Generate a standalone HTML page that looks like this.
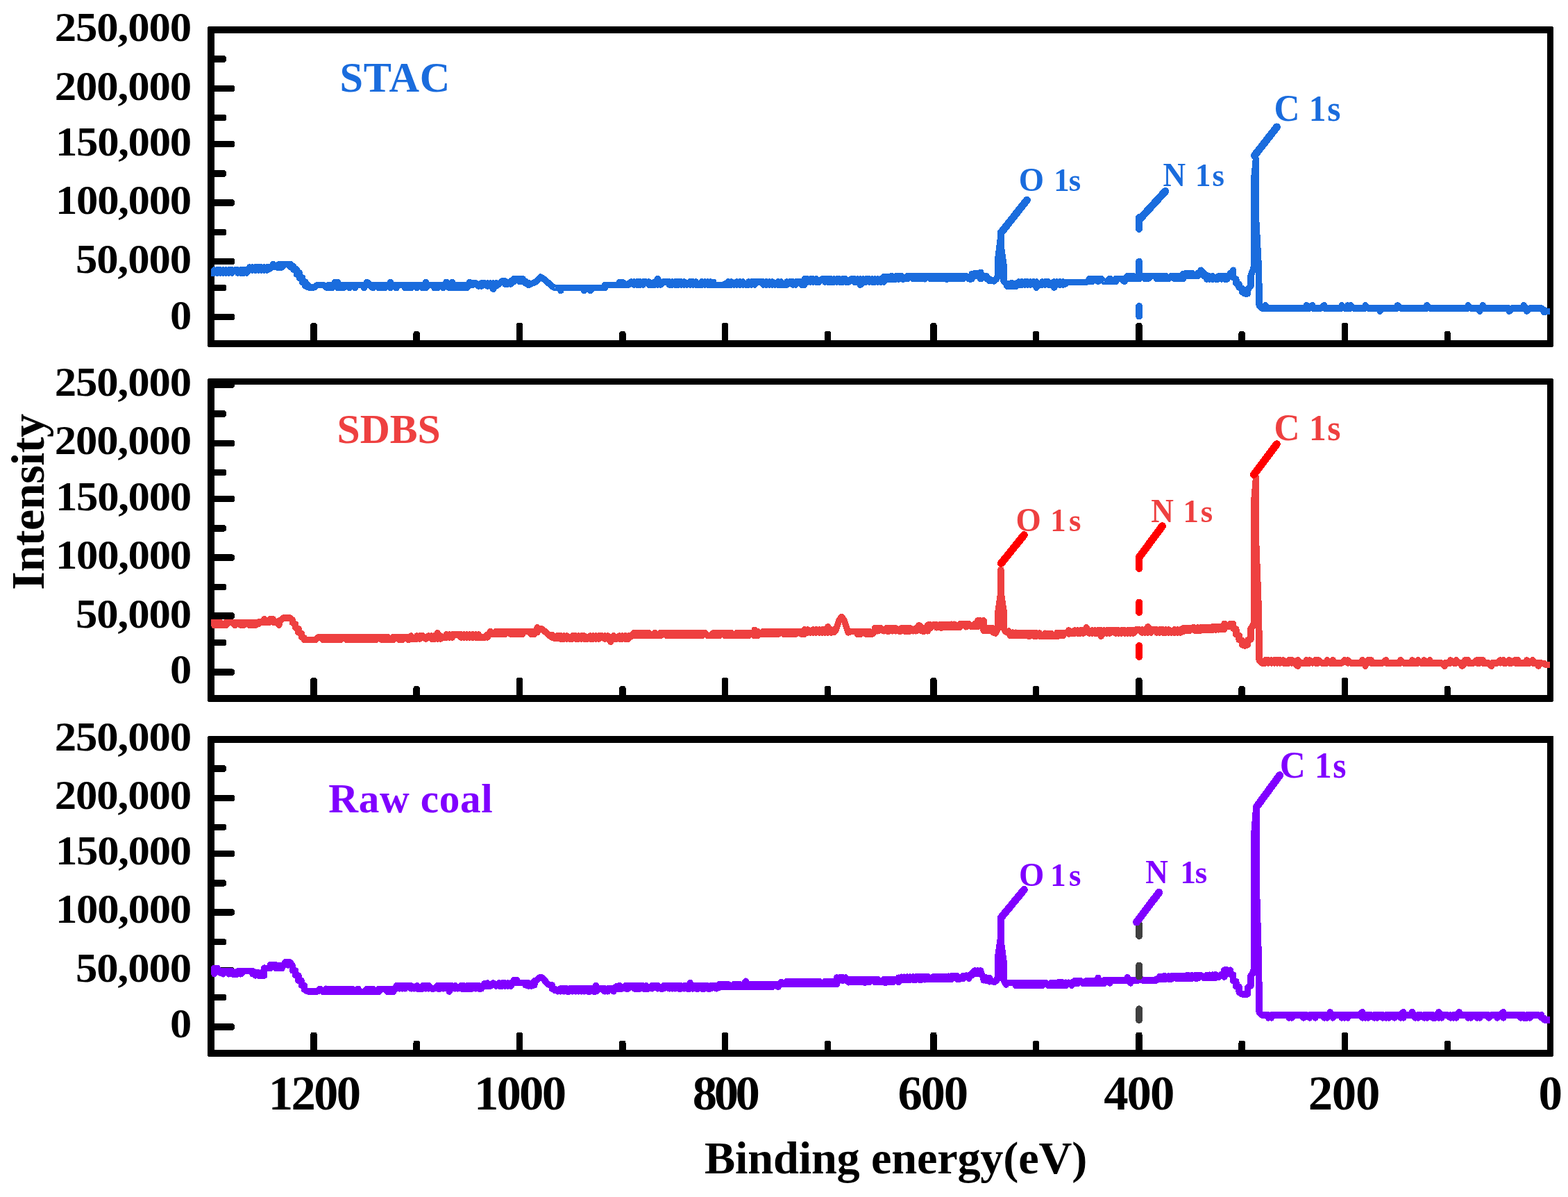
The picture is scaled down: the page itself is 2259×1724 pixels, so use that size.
<!DOCTYPE html>
<html lang="en"><head><meta charset="utf-8"><title>XPS survey spectra</title>
<style>html,body{margin:0;padding:0;background:#fff;width:2259px;height:1724px;}svg{display:block;}text{white-space:pre;}</style></head>
<body>
<svg width="2259" height="1724" viewBox="0 0 2259 1724" font-family='"Liberation Serif", serif' font-weight="bold">
<rect width="2259" height="1724" fill="#fff"/>
<g id="axes" shape-rendering="crispEdges"><path d="M304.0 122.75H334.2A4.0 4.0 0 0 1 338.2 126.75V128.25A4.0 4.0 0 0 1 334.2 132.25H304.0ZM304.0 202.75H334.2A4.0 4.0 0 0 1 338.2 206.75V208.25A4.0 4.0 0 0 1 334.2 212.25H304.0ZM304.0 287.25H334.2A4.0 4.0 0 0 1 338.2 291.25V292.75A4.0 4.0 0 0 1 334.2 296.75H304.0ZM304.0 371.75H334.2A4.0 4.0 0 0 1 338.2 375.75V377.25A4.0 4.0 0 0 1 334.2 381.25H304.0ZM304.0 451.75H334.2A4.0 4.0 0 0 1 338.2 455.75V457.25A4.0 4.0 0 0 1 334.2 461.25H304.0ZM304.0 80.25H322.2A4.0 4.0 0 0 1 326.2 84.25V85.75A4.0 4.0 0 0 1 322.2 89.75H304.0ZM304.0 164.75H322.2A4.0 4.0 0 0 1 326.2 168.75V170.25A4.0 4.0 0 0 1 322.2 174.25H304.0ZM304.0 245.25H322.2A4.0 4.0 0 0 1 326.2 249.25V250.75A4.0 4.0 0 0 1 322.2 254.75H304.0ZM304.0 329.65H322.2A4.0 4.0 0 0 1 326.2 333.65V335.15A4.0 4.0 0 0 1 322.2 339.15H304.0ZM304.0 409.75H322.2A4.0 4.0 0 0 1 326.2 413.75V415.25A4.0 4.0 0 0 1 322.2 419.25H304.0ZM447.25 495.0V468.8A4.0 4.0 0 0 1 451.25 464.8H452.75A4.0 4.0 0 0 1 456.75 468.8V495.0ZM743.65 495.0V468.8A4.0 4.0 0 0 1 747.65 464.8H749.15A4.0 4.0 0 0 1 753.15 468.8V495.0ZM1039.65 495.0V468.8A4.0 4.0 0 0 1 1043.65 464.8H1045.15A4.0 4.0 0 0 1 1049.15 468.8V495.0ZM1340.15 495.0V468.8A4.0 4.0 0 0 1 1344.15 464.8H1345.65A4.0 4.0 0 0 1 1349.65 468.8V495.0ZM1636.15 495.0V468.8A4.0 4.0 0 0 1 1640.15 464.8H1641.65A4.0 4.0 0 0 1 1645.65 468.8V495.0ZM1932.75 495.0V468.8A4.0 4.0 0 0 1 1936.75 464.8H1938.25A4.0 4.0 0 0 1 1942.25 468.8V495.0ZM595.45 495.0V480.8A4.0 4.0 0 0 1 599.45 476.8H600.95A4.0 4.0 0 0 1 604.95 480.8V495.0ZM892.05 495.0V480.8A4.0 4.0 0 0 1 896.05 476.8H897.55A4.0 4.0 0 0 1 901.55 480.8V495.0ZM1187.65 495.0V480.8A4.0 4.0 0 0 1 1191.65 476.8H1193.15A4.0 4.0 0 0 1 1197.15 480.8V495.0ZM1487.85 495.0V480.8A4.0 4.0 0 0 1 1491.85 476.8H1493.35A4.0 4.0 0 0 1 1497.35 480.8V495.0ZM1784.45 495.0V480.8A4.0 4.0 0 0 1 1788.45 476.8H1789.95A4.0 4.0 0 0 1 1793.95 480.8V495.0ZM2080.55 495.0V480.8A4.0 4.0 0 0 1 2084.55 476.8H2086.05A4.0 4.0 0 0 1 2090.05 480.8V495.0Z" fill="#000"/><path fill-rule="evenodd" d="M301.5 38.0H2235.8Q2238.3 38.0 2238.3 40.5V497.5Q2238.3 500.0 2235.8 500.0H301.5Q299.0 500.0 299.0 497.5V40.5Q299.0 38.0 301.5 38.0ZM309.0 48.0V490.0H2229.2V48.0Z" fill="#000"/><path d="M304.0 549.25H334.2A4.0 4.0 0 0 1 338.2 553.25V554.75A4.0 4.0 0 0 1 334.2 558.75H304.0ZM304.0 633.85H334.2A4.0 4.0 0 0 1 338.2 637.85V639.35A4.0 4.0 0 0 1 334.2 643.35H304.0ZM304.0 713.75H334.2A4.0 4.0 0 0 1 338.2 717.75V719.25A4.0 4.0 0 0 1 334.2 723.25H304.0ZM304.0 798.35H334.2A4.0 4.0 0 0 1 338.2 802.35V803.85A4.0 4.0 0 0 1 334.2 807.85H304.0ZM304.0 882.25H334.2A4.0 4.0 0 0 1 338.2 886.25V887.75A4.0 4.0 0 0 1 334.2 891.75H304.0ZM304.0 963.45H334.2A4.0 4.0 0 0 1 338.2 967.45V968.95A4.0 4.0 0 0 1 334.2 972.95H304.0ZM304.0 591.25H322.2A4.0 4.0 0 0 1 326.2 595.25V596.75A4.0 4.0 0 0 1 322.2 600.75H304.0ZM304.0 675.65H322.2A4.0 4.0 0 0 1 326.2 679.65V681.15A4.0 4.0 0 0 1 322.2 685.15H304.0ZM304.0 756.15H322.2A4.0 4.0 0 0 1 326.2 760.15V761.65A4.0 4.0 0 0 1 322.2 765.65H304.0ZM304.0 840.75H322.2A4.0 4.0 0 0 1 326.2 844.75V846.25A4.0 4.0 0 0 1 322.2 850.25H304.0ZM304.0 920.75H322.2A4.0 4.0 0 0 1 326.2 924.75V926.25A4.0 4.0 0 0 1 322.2 930.25H304.0ZM447.25 1006.0V979.8A4.0 4.0 0 0 1 451.25 975.8H452.75A4.0 4.0 0 0 1 456.75 979.8V1006.0ZM743.65 1006.0V979.8A4.0 4.0 0 0 1 747.65 975.8H749.15A4.0 4.0 0 0 1 753.15 979.8V1006.0ZM1039.65 1006.0V979.8A4.0 4.0 0 0 1 1043.65 975.8H1045.15A4.0 4.0 0 0 1 1049.15 979.8V1006.0ZM1340.15 1006.0V979.8A4.0 4.0 0 0 1 1344.15 975.8H1345.65A4.0 4.0 0 0 1 1349.65 979.8V1006.0ZM1636.15 1006.0V979.8A4.0 4.0 0 0 1 1640.15 975.8H1641.65A4.0 4.0 0 0 1 1645.65 979.8V1006.0ZM1932.75 1006.0V979.8A4.0 4.0 0 0 1 1936.75 975.8H1938.25A4.0 4.0 0 0 1 1942.25 979.8V1006.0ZM595.45 1006.0V991.8A4.0 4.0 0 0 1 599.45 987.8H600.95A4.0 4.0 0 0 1 604.95 991.8V1006.0ZM892.05 1006.0V991.8A4.0 4.0 0 0 1 896.05 987.8H897.55A4.0 4.0 0 0 1 901.55 991.8V1006.0ZM1187.65 1006.0V991.8A4.0 4.0 0 0 1 1191.65 987.8H1193.15A4.0 4.0 0 0 1 1197.15 991.8V1006.0ZM1487.85 1006.0V991.8A4.0 4.0 0 0 1 1491.85 987.8H1493.35A4.0 4.0 0 0 1 1497.35 991.8V1006.0ZM1784.45 1006.0V991.8A4.0 4.0 0 0 1 1788.45 987.8H1789.95A4.0 4.0 0 0 1 1793.95 991.8V1006.0ZM2080.55 1006.0V991.8A4.0 4.0 0 0 1 2084.55 987.8H2086.05A4.0 4.0 0 0 1 2090.05 991.8V1006.0Z" fill="#000"/><path fill-rule="evenodd" d="M301.5 545.0H2235.8Q2238.3 545.0 2238.3 547.5V1008.5Q2238.3 1011.0 2235.8 1011.0H301.5Q299.0 1011.0 299.0 1008.5V547.5Q299.0 545.0 301.5 545.0ZM309.0 554.0V1001.0H2229.2V554.0Z" fill="#000"/><path d="M304.0 1144.65H334.2A4.0 4.0 0 0 1 338.2 1148.65V1150.15A4.0 4.0 0 0 1 334.2 1154.15H304.0ZM304.0 1224.65H334.2A4.0 4.0 0 0 1 338.2 1228.65V1230.15A4.0 4.0 0 0 1 334.2 1234.15H304.0ZM304.0 1309.15H334.2A4.0 4.0 0 0 1 338.2 1313.15V1314.65A4.0 4.0 0 0 1 334.2 1318.65H304.0ZM304.0 1393.25H334.2A4.0 4.0 0 0 1 338.2 1397.25V1398.75A4.0 4.0 0 0 1 334.2 1402.75H304.0ZM304.0 1474.25H334.2A4.0 4.0 0 0 1 338.2 1478.25V1479.75A4.0 4.0 0 0 1 334.2 1483.75H304.0ZM304.0 1102.25H322.2A4.0 4.0 0 0 1 326.2 1106.25V1107.75A4.0 4.0 0 0 1 322.2 1111.75H304.0ZM304.0 1186.55H322.2A4.0 4.0 0 0 1 326.2 1190.55V1192.05A4.0 4.0 0 0 1 322.2 1196.05H304.0ZM304.0 1267.05H322.2A4.0 4.0 0 0 1 326.2 1271.05V1272.55A4.0 4.0 0 0 1 322.2 1276.55H304.0ZM304.0 1351.95H322.2A4.0 4.0 0 0 1 326.2 1355.95V1357.45A4.0 4.0 0 0 1 322.2 1361.45H304.0ZM304.0 1431.85H322.2A4.0 4.0 0 0 1 326.2 1435.85V1437.35A4.0 4.0 0 0 1 322.2 1441.35H304.0ZM447.25 1516.7V1490.5A4.0 4.0 0 0 1 451.25 1486.5H452.75A4.0 4.0 0 0 1 456.75 1490.5V1516.7ZM743.65 1516.7V1490.5A4.0 4.0 0 0 1 747.65 1486.5H749.15A4.0 4.0 0 0 1 753.15 1490.5V1516.7ZM1039.65 1516.7V1490.5A4.0 4.0 0 0 1 1043.65 1486.5H1045.15A4.0 4.0 0 0 1 1049.15 1490.5V1516.7ZM1340.15 1516.7V1490.5A4.0 4.0 0 0 1 1344.15 1486.5H1345.65A4.0 4.0 0 0 1 1349.65 1490.5V1516.7ZM1636.15 1516.7V1490.5A4.0 4.0 0 0 1 1640.15 1486.5H1641.65A4.0 4.0 0 0 1 1645.65 1490.5V1516.7ZM1932.75 1516.7V1490.5A4.0 4.0 0 0 1 1936.75 1486.5H1938.25A4.0 4.0 0 0 1 1942.25 1490.5V1516.7ZM595.45 1516.7V1502.5A4.0 4.0 0 0 1 599.45 1498.5H600.95A4.0 4.0 0 0 1 604.95 1502.5V1516.7ZM892.05 1516.7V1502.5A4.0 4.0 0 0 1 896.05 1498.5H897.55A4.0 4.0 0 0 1 901.55 1502.5V1516.7ZM1187.65 1516.7V1502.5A4.0 4.0 0 0 1 1191.65 1498.5H1193.15A4.0 4.0 0 0 1 1197.15 1502.5V1516.7ZM1487.85 1516.7V1502.5A4.0 4.0 0 0 1 1491.85 1498.5H1493.35A4.0 4.0 0 0 1 1497.35 1502.5V1516.7ZM1784.45 1516.7V1502.5A4.0 4.0 0 0 1 1788.45 1498.5H1789.95A4.0 4.0 0 0 1 1793.95 1502.5V1516.7ZM2080.55 1516.7V1502.5A4.0 4.0 0 0 1 2084.55 1498.5H2086.05A4.0 4.0 0 0 1 2090.05 1502.5V1516.7Z" fill="#000"/><path fill-rule="evenodd" d="M301.5 1059.8H2235.8Q2238.3 1059.8 2238.3 1062.3V1519.2Q2238.3 1521.7 2235.8 1521.7H301.5Q299.0 1521.7 299.0 1519.2V1062.3Q299.0 1059.8 301.5 1059.8ZM309.0 1069.8V1511.7H2229.2V1069.8Z" fill="#000"/></g>
<g id="curves" shape-rendering="crispEdges"><path d="M304.0 393.1L308.8 393.1L308.8 388.9L313.0 393.1L313.0 388.9L317.3 388.9L317.3 393.1L317.3 388.9L321.5 393.1L321.5 388.9L321.5 393.1L325.7 388.9L325.7 393.1L325.7 388.9L329.9 393.1L329.9 388.9L334.2 388.9L334.2 393.1L338.4 388.9L342.6 388.9L342.6 393.1L346.9 388.9L346.9 393.1L351.1 393.1L351.1 388.9L355.3 393.1L355.3 388.9L359.6 385.9L359.6 384.9L359.6 389.1L359.6 384.9L363.8 389.1L363.8 384.9L368.0 389.1L368.0 384.9L372.2 384.9L372.2 389.1L372.2 384.9L376.5 384.9L376.5 389.1L380.7 384.9L380.7 389.1L384.9 384.9L384.9 389.1L384.9 388.0L389.2 386.9L389.2 384.8L393.4 384.8L393.4 380.6L397.6 384.8L401.9 384.8L401.9 384.9L401.9 380.7L401.9 384.9L406.1 384.9L406.1 380.7L406.1 384.9L410.3 380.7L414.5 380.7L418.8 384.9L418.8 380.7L419.0 381.0L423.0 384.0L423.0 388.5L427.2 388.0L427.2 395.0L431.5 393.0L431.5 400.5L435.7 400.0L435.7 407.0L439.9 406.0L439.9 412.0L444.2 411.0L444.2 413.8L453.0 413.8L457.0 410.5L466.0 410.5L470.0 413.8L473.8 410.5L473.8 414.7L478.0 410.5L478.0 414.7L482.2 410.5L482.2 406.3L486.5 406.3L486.5 414.7L486.5 410.5L490.7 414.7L490.7 410.5L494.9 410.5L494.9 414.7L499.1 410.5L503.4 414.7L503.4 410.5L507.6 410.5L511.8 414.7L511.8 410.5L524.5 410.5L524.5 414.7L528.8 406.3L528.8 410.5L528.8 406.3L537.2 414.7L537.2 410.5L545.7 410.5L545.7 414.7L545.7 410.5L549.9 410.5L549.9 414.7L554.1 414.7L554.1 410.5L554.1 414.7L558.4 410.5L562.6 410.5L562.6 406.3L562.6 414.7L566.8 410.5L571.1 410.5L571.1 414.7L571.1 410.5L583.7 410.5L583.7 414.7L588.0 410.5L588.0 414.7L592.2 410.5L592.2 414.7L592.2 410.5L600.7 410.5L600.7 414.7L600.7 410.5L609.1 410.5L609.1 414.7L609.1 410.5L613.4 414.7L613.4 406.3L613.4 414.7L617.6 410.5L626.0 410.5L626.0 414.7L630.3 414.7L630.3 410.5L638.7 410.5L638.7 414.7L638.7 410.5L643.0 410.5L643.0 406.3L643.0 410.5L647.2 414.7L647.2 410.5L651.4 406.3L651.4 414.7L651.4 410.5L655.7 410.5L655.7 414.7L659.9 414.7L659.9 410.5L664.1 414.7L664.1 410.5L668.3 410.5L668.3 414.7L672.6 414.7L672.6 410.5L672.6 414.7L676.8 410.5L676.8 406.3L681.0 410.5L681.0 407.9L685.3 407.9L689.5 412.1L693.7 407.9L693.7 412.1L693.7 407.9L698.0 407.9L702.2 412.1L702.2 407.9L706.4 412.1L706.4 407.9L710.6 416.3L710.6 407.9L714.9 412.1L714.9 407.9L714.9 410.6L719.1 409.1L723.3 404.9L727.6 404.9L727.6 409.1L731.8 409.1L736.0 404.9L736.0 409.1L740.3 402.3L740.3 401.4L740.3 405.6L744.5 401.4L748.7 405.6L748.7 401.4L752.9 405.6L752.9 401.4L757.2 406.8L757.2 408.0L757.2 405.0L761.4 410.4L761.4 407.4L762.0 410.0L772.0 406.0L779.0 399.0L785.0 403.0L795.0 412.0L799.5 414.5L807.9 414.5L807.9 418.7L807.9 414.5L841.8 414.5L841.8 418.7L841.8 414.5L850.2 414.5L850.2 418.7L854.5 414.5L871.4 414.5L871.4 410.5L892.5 410.5L892.5 406.3L896.8 410.5L896.8 406.3L901.0 410.5L905.2 410.5L905.2 408.6L905.2 410.1L909.5 405.9L913.7 410.1L913.7 405.9L917.9 410.1L917.9 405.9L917.9 410.1L922.1 410.1L922.1 405.9L926.4 410.1L926.4 405.9L930.6 405.9L934.8 410.1L934.8 405.9L934.8 410.1L943.3 410.1L943.3 405.9L947.5 405.9L947.5 401.7L947.5 410.1L947.5 401.7L951.8 410.1L956.0 405.9L964.4 405.9L964.4 410.1L968.7 410.1L968.7 405.9L972.9 410.1L972.9 405.9L972.9 410.1L977.1 410.1L977.1 405.9L981.4 405.9L981.4 410.1L985.6 405.9L985.6 410.1L985.6 405.9L989.8 410.1L994.1 405.9L994.1 410.1L994.1 405.9L998.3 405.9L998.3 410.1L1002.5 405.9L1002.5 410.1L1011.0 410.1L1011.0 405.9L1015.2 410.1L1015.2 405.9L1019.4 410.1L1019.4 405.9L1023.7 410.1L1023.7 410.5L1023.7 405.9L1023.7 410.5L1027.9 406.3L1027.9 410.5L1044.8 410.5L1044.8 408.6L1049.0 410.1L1049.0 405.9L1049.0 410.1L1053.3 410.1L1053.3 405.9L1057.5 410.1L1061.7 405.9L1061.7 410.1L1066.0 405.9L1066.0 410.1L1070.2 405.9L1070.2 410.1L1070.2 405.9L1074.4 410.1L1078.7 410.1L1078.7 405.9L1082.9 410.1L1082.9 405.9L1087.1 405.9L1087.1 410.1L1087.1 405.9L1099.8 405.9L1099.8 410.1L1104.0 405.9L1104.0 410.1L1108.3 405.9L1108.3 410.1L1112.5 405.9L1112.5 410.1L1112.5 405.9L1116.7 410.1L1121.0 405.9L1121.0 410.1L1125.2 410.1L1125.2 405.9L1125.2 410.1L1133.6 410.1L1133.6 405.9L1133.6 410.1L1137.9 405.9L1142.1 410.1L1142.1 405.9L1146.3 410.1L1146.3 405.9L1154.8 405.9L1154.8 410.1L1159.0 410.1L1159.0 401.9L1163.3 401.9L1163.3 406.1L1163.3 401.9L1167.5 406.1L1167.5 401.9L1171.7 401.9L1171.7 406.1L1171.7 401.9L1175.9 406.1L1175.9 401.9L1175.9 406.1L1180.2 406.1L1184.4 401.9L1188.6 401.9L1188.6 406.1L1188.6 401.9L1192.9 401.9L1192.9 406.1L1197.1 406.1L1197.1 401.9L1197.1 406.1L1201.3 406.1L1201.3 401.9L1201.3 406.1L1205.6 401.9L1205.6 406.1L1205.6 401.9L1209.8 401.9L1209.8 406.1L1214.0 406.1L1214.0 401.9L1218.2 401.9L1218.2 406.1L1222.5 406.1L1226.7 401.9L1230.9 401.9L1230.9 406.1L1235.2 406.1L1235.2 401.9L1235.2 406.1L1239.4 401.9L1239.4 410.3L1243.6 406.1L1243.6 401.9L1243.6 406.1L1247.9 406.1L1247.9 401.9L1247.9 406.1L1252.1 401.9L1252.1 406.1L1256.3 401.9L1256.3 406.1L1260.5 406.1L1260.5 401.9L1264.8 406.1L1264.8 401.9L1269.0 406.1L1269.0 401.9L1273.2 406.1L1273.2 398.4L1277.5 398.3L1277.5 402.5L1277.5 398.3L1281.7 402.5L1281.7 398.2L1285.9 398.1L1285.9 402.3L1290.2 398.0L1290.2 402.2L1290.2 398.0L1294.4 397.9L1294.4 402.1L1294.4 402.0L1298.6 397.7L1298.6 397.6L1298.6 401.8L1302.8 401.8L1307.1 397.6L1307.1 401.8L1311.3 397.6L1315.5 401.8L1315.5 397.6L1319.8 397.6L1319.8 401.8L1324.0 397.6L1324.0 401.8L1324.0 397.6L1328.2 397.6L1328.2 401.8L1332.5 397.6L1332.5 401.8L1336.7 397.6L1340.9 401.8L1340.9 397.6L1345.1 397.6L1345.1 401.8L1349.4 397.6L1349.4 401.8L1349.4 397.6L1353.6 397.6L1353.6 401.8L1353.6 397.6L1357.8 401.8L1357.8 397.6L1362.1 397.6L1362.1 401.8L1366.3 401.8L1366.3 397.6L1370.5 401.8L1370.5 397.6L1374.8 401.8L1374.8 397.6L1374.8 401.8L1379.0 397.6L1379.0 401.8L1379.0 397.6L1383.2 397.6L1383.2 401.8L1387.4 397.6L1387.4 401.8L1387.4 397.6L1391.7 397.6L1395.9 401.8L1400.1 401.8L1400.1 394.4L1400.1 397.5L1404.4 397.5L1404.4 393.3L1408.6 393.3L1408.6 397.5L1412.8 397.5L1412.8 401.8L1412.8 392.2L1412.8 397.6L1421.3 397.6L1421.3 401.8L1425.5 401.8L1425.5 404.3L1428.0 403.0L1432.0 405.0L1435.5 402.0L1438.0 396.0L1438.0 371.0L1442.0 339.1L1442.0 353.0L1446.0 382.0L1446.0 405.0L1450.5 410.0L1450.9 412.3L1455.1 408.1L1455.1 412.3L1455.1 408.1L1459.4 408.1L1459.4 412.3L1463.6 412.3L1463.6 408.1L1467.8 410.7L1467.8 405.9L1472.0 410.1L1472.0 405.9L1476.3 410.1L1476.3 405.9L1480.5 405.9L1480.5 410.1L1484.7 405.9L1484.7 410.1L1489.0 405.9L1493.2 414.3L1493.2 405.9L1497.4 410.1L1501.7 410.1L1501.7 405.9L1505.9 410.1L1505.9 405.9L1510.1 405.9L1510.1 410.1L1514.3 410.1L1518.6 405.9L1518.6 414.3L1522.8 405.9L1527.0 410.1L1527.0 405.9L1531.3 410.1L1531.3 405.9L1531.3 410.1L1535.5 408.8L1535.5 406.2L1565.1 406.2L1569.3 404.1L1569.3 405.5L1569.3 401.3L1569.3 405.5L1573.6 405.5L1573.6 401.3L1573.6 405.5L1577.8 401.3L1582.0 401.3L1582.0 405.5L1586.3 401.3L1590.5 405.5L1594.7 405.5L1598.9 401.3L1598.9 405.5L1603.2 405.5L1607.4 401.3L1607.4 405.5L1607.4 401.3L1615.9 401.3L1620.1 405.5L1620.1 401.3L1624.3 398.4L1624.3 397.4L1624.3 401.6L1628.6 397.4L1628.6 401.6L1632.8 397.4L1632.8 401.6L1637.0 401.6L1641.2 397.4L1641.2 401.6L1641.2 397.4L1649.7 397.4L1649.7 401.6L1649.7 397.4L1653.9 397.4L1653.9 401.6L1658.2 397.4L1666.6 397.4L1666.6 401.6L1670.9 401.6L1670.9 397.4L1675.1 397.4L1675.1 401.6L1675.1 397.4L1679.3 401.6L1679.3 397.4L1683.5 401.6L1687.8 397.4L1692.0 397.4L1692.0 401.6L1696.2 397.4L1696.2 401.6L1700.5 397.4L1700.5 401.6L1704.7 401.6L1704.7 394.3L1704.7 397.5L1708.9 393.3L1708.9 397.5L1713.2 393.3L1713.2 397.5L1717.4 393.3L1717.4 397.5L1717.4 393.3L1721.6 397.5L1725.8 397.5L1725.8 393.3L1725.8 397.5L1730.1 393.3L1730.1 389.1L1734.3 393.3L1734.3 397.5L1734.3 393.3L1738.5 397.5L1738.5 396.7L1738.5 402.1L1742.8 397.9L1742.8 402.1L1747.0 397.8L1747.0 402.1L1747.0 397.8L1751.2 402.0L1755.5 402.0L1755.5 397.8L1759.7 397.8L1759.7 402.0L1763.9 397.7L1763.9 401.9L1768.1 401.9L1768.1 397.5L1772.4 397.5L1772.4 393.3L1776.6 393.3L1776.6 389.1L1776.6 399.6L1780.8 402.0L1780.8 408.0L1785.1 409.5L1785.1 414.0L1789.3 415.5L1789.3 420.5L1793.5 422.9L1797.7 422.9L1797.7 417.0L1802.0 412.0L1802.0 397.0L1806.2 386.0L1806.9 256.0L1809.4 229.1L1809.4 312.0L1813.6 390.0L1814.2 440.0L1818.5 444.0L1823.1 444.0L1823.1 439.8L1823.1 444.0L1882.4 444.0L1882.4 439.8L1882.4 444.0L1886.6 444.0L1890.8 439.8L1890.8 444.0L1903.5 444.0L1907.7 439.8L1907.7 444.0L1933.1 444.0L1933.1 439.8L1937.3 444.0L1941.6 444.0L1941.6 439.8L1941.6 444.0L1945.8 444.0L1945.8 439.8L1950.0 444.0L1967.0 444.0L1967.0 439.8L1971.2 444.0L1988.1 444.0L1988.1 448.2L1988.1 444.0L2013.5 444.0L2013.5 439.8L2017.7 444.0L2055.8 444.0L2055.8 439.8L2060.0 444.0L2115.0 444.0L2115.0 439.8L2119.2 444.0L2131.9 444.0L2131.9 448.2L2131.9 444.0L2136.2 444.0L2136.2 439.8L2136.2 444.0L2174.2 444.0L2174.2 448.2L2178.5 444.0L2195.4 444.0L2195.4 439.8L2195.4 444.0L2199.6 444.0L2199.6 448.2L2203.8 444.0L2220.8 444.0L2220.8 444.7L2225.0 449.7L2224.0 446.0L2228.0 448.5L2233.0 448.5" stroke="#1a6cdd" stroke-width="9.4" stroke-linejoin="round" stroke-linecap="butt" fill="none"/><path d="M304.0 896.3L308.8 896.3L308.8 900.5L313.0 896.3L313.0 900.5L317.3 896.3L317.3 900.5L317.3 896.3L321.5 900.5L325.7 896.3L325.7 900.5L329.9 896.3L334.2 896.3L338.4 900.5L338.4 896.3L342.6 896.3L346.9 900.5L346.9 896.3L351.1 900.5L351.1 896.3L351.1 900.5L355.3 896.3L359.6 900.5L359.6 896.3L363.8 896.3L363.8 900.5L368.0 896.3L368.0 900.5L368.0 896.3L372.2 898.7L372.2 896.0L380.7 896.0L380.7 891.8L380.7 896.0L389.2 896.0L389.2 891.8L393.4 896.0L393.4 891.8L393.4 896.0L401.9 896.0L401.9 894.1L401.9 900.2L401.9 894.1L404.0 893.5L408.5 889.8L417.5 889.8L421.5 893.0L421.5 897.0L425.7 899.0L425.7 904.0L430.0 905.5L430.0 911.0L434.2 912.0L434.2 917.5L438.4 919.0L438.4 921.3L455.0 921.3L459.0 917.5L461.1 917.2L465.3 921.4L465.3 917.2L469.5 917.2L469.5 921.4L473.8 921.4L473.8 917.2L478.0 917.2L478.0 921.4L482.2 921.4L482.2 917.2L486.5 921.4L486.5 917.2L486.5 921.4L490.7 917.2L490.7 921.4L494.9 917.2L499.1 921.4L499.1 917.2L499.1 921.4L503.4 921.4L503.4 917.2L507.6 921.4L507.6 917.2L507.6 921.4L511.8 917.2L511.8 921.4L516.1 921.4L516.1 917.2L516.1 921.4L520.3 921.4L520.3 917.2L524.5 917.2L524.5 921.4L524.5 917.2L528.8 917.2L528.8 921.4L528.8 917.2L533.0 921.4L533.0 917.2L537.2 921.4L537.2 917.2L537.2 921.4L541.4 917.2L541.4 921.4L545.7 917.2L549.9 917.2L549.9 921.4L554.1 921.4L554.1 917.2L558.4 917.2L558.4 921.4L558.4 917.2L562.6 921.4L566.8 921.4L566.8 917.2L566.8 921.4L571.1 917.2L575.3 921.4L575.3 917.2L579.5 921.4L579.5 917.2L588.0 917.2L588.0 921.4L592.2 920.5L592.2 915.9L592.2 920.1L600.7 920.1L600.7 915.9L604.9 920.1L604.9 915.9L609.1 915.9L613.4 920.1L617.6 915.9L621.8 920.1L621.8 915.9L621.8 920.1L626.0 920.1L626.0 915.9L626.0 920.1L630.3 911.7L630.3 920.1L634.5 915.9L634.5 920.1L634.5 915.9L638.7 918.6L638.7 918.1L643.0 918.1L643.0 913.9L643.0 918.1L647.2 913.9L647.2 918.1L651.4 913.9L651.4 918.1L651.4 913.9L659.9 913.9L664.1 918.1L664.1 913.9L668.3 918.1L668.3 913.9L672.6 918.1L672.6 913.9L672.6 918.1L676.8 913.9L676.8 918.1L681.0 913.9L681.0 918.1L685.3 913.9L685.3 918.1L689.5 918.1L689.5 913.9L689.5 918.1L698.0 918.1L702.2 913.9L702.2 918.1L706.4 910.4L706.4 909.2L706.4 913.4L706.4 909.2L710.6 913.4L714.9 909.2L714.9 913.4L719.1 909.2L719.1 913.4L723.3 909.2L723.3 913.4L723.3 909.2L727.6 909.2L727.6 913.4L731.8 909.2L736.0 913.4L736.0 909.2L740.3 909.2L740.3 913.4L740.3 909.2L744.5 909.2L744.5 913.4L748.7 909.2L748.7 913.4L748.7 909.2L752.9 913.4L752.9 909.2L761.4 909.2L765.6 913.4L765.6 909.2L769.9 913.4L769.9 909.2L774.1 909.2L774.1 910.8L774.1 903.9L775.0 906.0L781.0 906.0L790.0 914.0L795.2 918.1L795.2 914.2L799.5 918.7L799.5 919.2L803.7 919.5L803.7 915.5L803.7 915.8L807.9 920.1L807.9 915.9L807.9 920.1L812.2 920.1L812.2 915.9L816.4 920.1L816.4 915.9L820.6 920.1L824.9 920.1L824.9 915.9L829.1 915.9L829.1 920.1L833.3 920.1L833.3 915.9L837.5 920.1L837.5 915.9L841.8 915.9L841.8 920.1L846.0 920.1L850.2 915.9L850.2 920.1L854.5 920.1L854.5 915.9L858.7 920.1L858.7 915.9L862.9 920.1L862.9 915.9L867.2 915.9L871.4 920.1L871.4 915.9L875.6 920.1L875.6 915.9L879.8 920.1L879.8 924.3L884.1 915.9L884.1 920.1L888.3 920.1L892.5 915.9L892.5 920.1L896.8 920.1L896.8 915.9L901.0 920.1L901.0 915.9L901.0 920.1L905.2 920.1L905.2 915.9L905.2 920.1L909.5 915.9L909.5 915.7L909.5 916.8L909.5 915.7L913.7 911.5L913.7 915.7L917.9 915.7L917.9 911.5L922.1 915.7L922.1 911.5L922.1 915.7L926.4 915.7L926.4 911.5L926.4 915.7L930.6 911.5L930.6 915.7L930.6 911.5L934.8 915.7L934.8 911.5L939.1 915.7L943.3 915.7L943.3 911.5L947.5 915.7L951.8 911.5L951.8 915.7L956.0 911.5L960.2 911.5L960.2 915.7L964.4 915.7L964.4 911.5L968.7 915.7L968.7 911.5L972.9 911.5L972.9 915.7L972.9 911.5L977.1 915.7L977.1 911.5L981.4 915.7L981.4 911.5L985.6 915.7L985.6 911.5L985.6 915.7L989.8 915.7L989.8 911.5L994.1 915.7L994.1 911.5L998.3 911.5L998.3 915.7L1002.5 915.7L1002.5 911.5L1006.7 915.7L1006.7 911.5L1011.0 915.7L1011.0 911.5L1015.2 911.5L1019.4 915.7L1023.7 915.7L1027.9 911.5L1027.9 915.7L1032.1 915.7L1032.1 911.5L1036.4 911.5L1036.4 915.7L1040.6 911.5L1044.8 915.7L1044.8 911.5L1049.0 911.5L1049.0 915.7L1053.3 911.5L1053.3 915.7L1061.7 915.7L1061.7 911.5L1066.0 915.7L1066.0 911.5L1066.0 915.7L1070.2 915.7L1070.2 911.5L1074.4 911.5L1074.4 915.7L1078.7 911.5L1078.7 915.7L1078.7 911.5L1082.9 911.5L1087.1 915.7L1087.1 907.3L1091.3 915.7L1091.3 909.2L1095.6 913.4L1099.8 909.2L1099.8 913.4L1099.8 909.2L1104.0 909.2L1104.0 913.4L1108.3 909.2L1108.3 913.4L1108.3 909.2L1112.5 913.4L1112.5 909.2L1116.7 909.2L1116.7 913.4L1121.0 909.2L1121.0 913.4L1125.2 909.2L1129.4 909.2L1129.4 913.4L1129.4 909.2L1133.6 913.4L1133.6 909.2L1133.6 913.4L1137.9 913.4L1137.9 909.2L1137.9 913.4L1142.1 913.4L1142.1 909.2L1146.3 913.4L1146.3 909.2L1150.6 909.2L1154.8 913.4L1154.8 909.2L1154.8 913.4L1159.0 913.4L1159.0 906.9L1163.3 911.1L1163.3 906.9L1167.5 911.1L1171.7 906.9L1171.7 911.1L1175.9 906.9L1175.9 911.1L1175.9 906.9L1180.2 911.1L1180.2 906.9L1184.4 911.1L1184.4 906.9L1188.6 906.9L1188.6 911.1L1188.6 906.9L1192.9 911.1L1192.9 902.7L1192.9 906.9L1197.1 911.1L1197.1 906.9L1197.1 911.1L1201.3 906.9L1201.3 910.7L1201.3 910.4L1204.0 908.0L1209.0 893.0L1212.5 888.6L1216.0 893.0L1222.0 911.0L1226.7 909.2L1235.2 909.2L1235.2 913.4L1235.2 909.2L1239.4 909.2L1239.4 913.4L1243.6 909.2L1247.9 909.2L1247.9 913.4L1247.9 909.2L1252.1 909.2L1252.1 913.4L1256.3 913.4L1260.5 909.2L1260.5 904.7L1264.8 904.7L1264.8 908.9L1264.8 904.7L1269.0 904.7L1273.2 908.9L1277.5 904.7L1277.5 908.9L1281.7 908.9L1281.7 904.7L1281.7 908.9L1285.9 904.7L1285.9 908.9L1285.9 904.7L1290.2 908.9L1290.2 904.7L1294.4 908.9L1298.6 908.9L1298.6 904.7L1302.8 904.7L1302.8 908.9L1307.1 908.9L1307.1 904.7L1307.1 908.9L1311.3 908.9L1311.3 904.7L1315.5 908.9L1319.8 904.7L1319.8 908.9L1319.8 904.7L1324.0 904.7L1324.0 900.5L1328.2 904.7L1328.2 908.9L1332.5 908.9L1332.5 904.7L1336.7 908.9L1336.7 900.1L1340.9 900.0L1340.9 904.2L1345.1 899.9L1345.1 899.8L1349.4 899.8L1349.4 899.7L1349.4 903.9L1353.6 899.7L1353.6 903.8L1357.8 903.8L1357.8 899.5L1357.8 903.7L1362.1 899.4L1362.1 903.6L1362.1 899.4L1366.3 903.6L1366.3 899.3L1366.3 903.5L1370.5 899.2L1370.5 903.3L1374.8 899.1L1374.8 903.3L1374.8 903.2L1379.0 903.2L1379.0 903.1L1383.2 903.1L1383.2 898.8L1387.4 898.8L1387.4 898.7L1391.7 898.7L1391.7 902.9L1395.9 898.6L1400.1 902.8L1400.1 902.7L1404.4 902.7L1404.4 898.5L1404.4 902.7L1408.6 902.6L1408.6 893.9L1412.8 893.9L1412.8 898.1L1417.1 893.9L1417.1 908.4L1421.3 908.4L1421.3 904.2L1425.5 908.4L1425.5 904.2L1429.7 904.2L1429.7 906.9L1430.0 910.0L1434.0 912.0L1438.1 905.0L1438.1 880.0L1442.0 853.0L1442.0 820.5L1442.0 853.0L1446.0 880.0L1446.0 905.0L1449.0 910.0L1453.0 909.0L1455.1 915.1L1459.4 915.2L1459.4 911.0L1459.4 915.2L1463.6 915.3L1463.6 911.1L1467.8 915.3L1467.8 915.4L1467.8 911.2L1472.0 915.5L1472.0 911.3L1472.0 915.5L1476.3 915.6L1476.3 911.4L1480.5 915.7L1480.5 915.8L1480.5 911.5L1480.5 915.8L1484.7 915.8L1484.7 915.9L1484.7 911.6L1484.7 915.9L1489.0 911.7L1489.0 916.0L1493.2 916.0L1493.2 916.1L1493.2 911.8L1493.2 916.1L1497.4 911.9L1497.4 916.2L1501.7 916.2L1501.7 916.3L1505.9 912.1L1505.9 916.4L1510.1 912.2L1510.1 916.6L1514.3 916.6L1514.3 912.4L1518.6 916.7L1522.8 916.8L1522.8 911.5L1527.0 915.7L1527.0 911.5L1531.3 915.7L1531.3 911.5L1539.7 911.5L1539.7 913.0L1539.7 907.9L1544.0 912.1L1548.2 912.1L1548.2 907.9L1552.4 912.1L1552.4 907.9L1552.4 912.1L1556.6 912.1L1556.6 907.9L1560.9 907.9L1560.9 912.1L1560.9 907.9L1565.1 907.9L1565.1 903.7L1569.3 912.1L1573.6 907.9L1573.6 912.1L1577.8 907.9L1577.8 912.1L1582.0 912.1L1582.0 907.9L1586.3 907.9L1586.3 916.3L1586.3 907.9L1590.5 912.1L1590.5 907.9L1594.7 912.1L1594.7 907.9L1598.9 907.9L1598.9 912.1L1603.2 907.9L1607.4 907.9L1607.4 912.1L1607.4 907.9L1611.6 907.9L1611.6 912.1L1611.6 907.9L1615.9 912.1L1615.9 907.9L1620.1 912.1L1620.1 907.9L1624.3 912.1L1624.3 907.9L1628.6 907.9L1628.6 912.1L1628.6 907.9L1632.8 907.9L1632.8 912.1L1637.0 907.9L1637.0 906.9L1641.2 906.9L1645.5 911.1L1645.5 906.9L1649.7 911.1L1649.7 906.9L1653.9 911.1L1653.9 902.7L1658.2 911.1L1658.2 906.9L1666.6 906.9L1666.6 911.1L1670.9 906.9L1670.9 911.1L1670.9 906.9L1675.1 906.9L1675.1 911.1L1679.3 911.1L1679.3 906.9L1679.3 911.1L1683.5 906.9L1683.5 911.1L1683.5 906.9L1687.8 911.1L1692.0 906.9L1692.0 911.1L1692.0 906.9L1696.2 911.1L1696.2 906.9L1700.5 911.1L1700.5 906.9L1700.5 911.1L1704.7 906.9L1704.7 904.7L1704.7 909.5L1704.7 904.7L1708.9 904.6L1708.9 908.8L1708.9 908.7L1713.2 908.7L1713.2 904.3L1717.4 904.3L1717.4 904.1L1721.6 904.1L1721.6 908.2L1725.8 908.2L1725.8 903.9L1725.8 908.1L1730.1 908.0L1730.1 903.7L1730.1 907.9L1734.3 903.6L1734.3 903.5L1734.3 907.8L1734.3 903.5L1738.5 903.4L1738.5 903.3L1738.5 907.6L1738.5 903.3L1742.8 903.2L1742.8 907.4L1742.8 907.3L1747.0 903.0L1747.0 902.9L1747.0 907.2L1747.0 902.9L1751.2 907.1L1751.2 902.7L1755.5 906.9L1755.5 902.5L1759.7 902.4L1759.7 906.5L1763.9 906.4L1763.9 898.3L1763.9 902.5L1768.1 902.5L1772.4 898.3L1772.4 902.5L1772.4 898.3L1776.6 902.5L1776.6 898.3L1776.6 902.5L1776.6 900.4L1776.6 905.0L1780.8 906.0L1780.8 914.0L1785.1 915.0L1785.1 921.5L1789.3 922.5L1789.3 928.5L1793.5 930.0L1797.7 928.5L1797.7 922.0L1802.0 921.0L1802.0 905.0L1806.2 900.0L1806.9 720.0L1809.6 688.0L1809.6 780.0L1813.6 885.0L1814.2 951.0L1818.5 955.0L1823.1 955.0L1823.1 950.8L1827.4 955.0L1827.4 950.8L1831.6 955.0L1831.6 950.8L1835.8 955.0L1835.8 950.8L1840.1 950.8L1840.1 955.0L1844.3 950.8L1844.3 955.0L1848.5 950.8L1848.5 955.0L1857.0 955.0L1857.0 950.8L1861.2 955.0L1861.2 950.8L1869.7 959.2L1869.7 950.8L1873.9 955.0L1882.4 955.0L1882.4 950.8L1882.4 955.0L1886.6 955.0L1886.6 950.8L1890.8 955.0L1895.0 950.8L1895.0 955.0L1899.3 955.0L1899.3 950.8L1903.5 955.0L1912.0 955.0L1912.0 950.8L1916.2 955.0L1920.4 955.0L1920.4 950.8L1920.4 955.0L1933.1 955.0L1937.3 950.8L1941.6 955.0L1941.6 950.8L1945.8 955.0L1962.7 955.0L1962.7 950.8L1962.7 955.0L1967.0 955.0L1967.0 959.2L1967.0 955.0L1971.2 955.0L1971.2 950.8L1975.4 950.8L1975.4 955.0L1992.3 955.0L1996.6 950.8L1996.6 955.0L2017.7 955.0L2017.7 950.8L2021.9 955.0L2034.6 955.0L2034.6 950.8L2034.6 955.0L2043.1 955.0L2043.1 950.8L2047.3 955.0L2051.6 955.0L2051.6 950.8L2051.6 955.0L2060.0 955.0L2060.0 950.8L2060.0 955.0L2076.9 955.0L2081.2 959.2L2081.2 955.0L2089.6 955.0L2089.6 950.8L2093.9 955.0L2098.1 955.0L2098.1 950.8L2102.3 955.0L2106.5 955.0L2106.5 959.2L2110.8 955.0L2110.8 950.8L2115.0 955.0L2115.0 950.8L2115.0 955.0L2123.5 955.0L2127.7 950.8L2127.7 955.0L2131.9 955.0L2131.9 950.8L2136.2 950.8L2136.2 955.0L2144.6 955.0L2148.8 959.2L2148.8 955.0L2157.3 955.0L2161.5 950.8L2161.5 955.0L2165.8 950.8L2165.8 955.0L2170.0 955.0L2174.2 950.8L2174.2 955.0L2178.5 955.0L2182.7 950.8L2182.7 955.0L2186.9 955.0L2186.9 950.8L2186.9 955.0L2199.6 955.0L2199.6 950.8L2199.6 955.0L2203.8 955.0L2208.1 950.8L2208.1 955.0L2216.5 955.0L2216.5 959.2L2216.5 955.0L2220.8 955.0L2220.8 955.4L2225.0 955.7L2224.0 956.0L2228.0 957.5L2233.0 957.5" stroke="#ee4040" stroke-width="9.4" stroke-linejoin="round" stroke-linecap="butt" fill="none"/><path d="M304.0 1398.4L308.8 1398.4L308.8 1402.6L308.8 1394.2L313.0 1398.4L313.0 1394.2L313.0 1398.4L317.3 1399.8L317.3 1401.1L317.3 1398.2L317.3 1398.7L321.5 1402.9L321.5 1398.7L329.9 1398.7L329.9 1402.9L329.9 1398.7L334.2 1402.9L334.2 1398.7L334.2 1402.9L342.6 1402.9L342.6 1398.7L346.9 1398.7L346.9 1402.9L351.1 1398.7L351.1 1398.4L363.8 1398.4L363.8 1402.6L363.8 1398.4L368.0 1400.8L368.0 1405.0L372.2 1400.8L372.2 1405.0L376.5 1405.0L376.5 1400.8L376.5 1405.0L380.7 1405.0L380.7 1394.0L380.7 1394.7L389.2 1394.7L389.2 1389.8L397.6 1389.8L397.6 1394.7L401.9 1390.5L401.9 1394.7L406.1 1390.5L406.1 1394.7L406.1 1392.7L407.0 1392.0L411.0 1385.7L415.0 1385.7L415.0 1390.0L418.0 1386.0L421.5 1391.0L421.5 1398.0L425.7 1398.0L425.7 1405.0L430.0 1405.0L430.0 1412.5L434.2 1412.5L434.2 1419.0L438.4 1419.5L438.4 1425.0L442.6 1427.8L458.0 1427.8L461.1 1424.2L465.3 1428.4L469.5 1424.2L469.5 1428.4L473.8 1424.2L473.8 1428.4L478.0 1428.4L478.0 1424.2L482.2 1428.4L482.2 1424.2L486.5 1424.2L486.5 1428.4L490.7 1428.4L490.7 1424.2L490.7 1428.4L494.9 1428.4L494.9 1424.2L499.1 1424.2L499.1 1428.4L503.4 1428.4L503.4 1424.2L503.4 1428.4L507.6 1428.4L507.6 1424.2L511.8 1428.4L516.1 1428.4L516.1 1424.2L516.1 1428.4L524.5 1428.4L528.8 1424.2L528.8 1428.4L533.0 1424.2L533.0 1428.4L537.2 1424.2L537.2 1428.4L537.2 1424.2L541.4 1428.4L545.7 1424.2L545.7 1428.4L549.9 1424.2L554.1 1424.2L558.4 1428.4L558.4 1424.2L558.4 1428.4L562.6 1428.4L562.6 1424.2L562.6 1428.4L566.8 1428.4L566.8 1424.2L566.8 1425.1L571.1 1423.9L571.1 1419.7L571.1 1423.9L575.3 1419.7L575.3 1423.9L575.3 1419.7L579.5 1423.9L579.5 1419.7L583.7 1419.7L583.7 1423.9L583.7 1419.7L588.0 1419.7L592.2 1423.9L592.2 1419.7L596.4 1423.9L600.7 1419.7L600.7 1423.9L609.1 1423.9L609.1 1419.7L613.4 1419.7L613.4 1423.9L613.4 1419.7L617.6 1419.7L617.6 1423.9L617.6 1419.7L621.8 1423.9L626.0 1423.9L630.3 1419.7L630.3 1423.9L634.5 1423.9L634.5 1419.7L634.5 1423.9L638.7 1419.7L638.7 1423.9L643.0 1419.7L643.0 1423.9L647.2 1419.7L647.2 1428.1L647.2 1419.7L651.4 1423.9L651.4 1419.7L655.7 1423.9L655.7 1419.7L659.9 1423.9L664.1 1419.7L664.1 1423.9L668.3 1423.9L668.3 1419.7L668.3 1423.9L672.6 1423.9L672.6 1419.7L672.6 1423.9L676.8 1423.9L676.8 1419.7L676.8 1423.9L681.0 1423.9L681.0 1419.7L685.3 1423.9L685.3 1419.7L689.5 1423.9L689.5 1419.7L689.5 1423.9L693.7 1423.9L693.7 1422.3L698.0 1417.3L698.0 1416.5L698.0 1420.1L702.2 1420.1L702.2 1415.9L702.2 1420.1L706.4 1420.1L710.6 1415.9L714.9 1420.1L719.1 1415.9L719.1 1420.1L723.3 1420.1L723.3 1415.9L727.6 1415.9L727.6 1420.1L731.8 1415.9L731.8 1420.1L731.8 1415.9L736.0 1420.1L736.0 1415.9L736.0 1420.1L740.3 1412.5L740.3 1411.3L744.5 1415.5L744.5 1411.3L744.5 1415.5L757.2 1415.5L757.2 1418.9L757.2 1415.9L761.4 1415.9L761.4 1420.1L761.4 1415.9L765.6 1420.1L769.9 1418.6L769.9 1412.9L769.9 1415.7L772.0 1413.0L777.0 1408.0L781.0 1408.0L790.0 1418.0L795.2 1418.9L795.2 1423.9L799.5 1424.7L799.5 1426.3L803.7 1427.1L803.7 1427.9L807.9 1423.7L807.9 1427.9L807.9 1423.7L812.2 1423.7L812.2 1427.9L816.4 1423.7L816.4 1427.9L820.6 1427.9L820.6 1423.7L824.9 1427.9L824.9 1423.7L829.1 1427.9L829.1 1423.7L829.1 1427.9L833.3 1423.7L833.3 1427.9L837.5 1423.7L837.5 1427.9L837.5 1423.7L841.8 1427.9L841.8 1423.7L846.0 1423.7L846.0 1427.9L850.2 1427.9L850.2 1423.7L854.5 1423.7L854.5 1427.9L858.7 1427.9L858.7 1419.5L858.7 1427.9L862.9 1423.7L867.2 1423.7L871.4 1427.9L871.4 1423.7L875.6 1427.9L875.6 1423.7L879.8 1423.7L884.1 1427.9L884.1 1423.7L888.3 1420.7L888.3 1423.9L892.5 1423.9L892.5 1419.7L892.5 1423.9L896.8 1423.9L901.0 1419.7L901.0 1423.9L905.2 1423.9L905.2 1419.7L905.2 1423.9L909.5 1419.7L913.7 1419.7L913.7 1423.9L917.9 1423.9L917.9 1419.7L917.9 1423.9L922.1 1423.9L922.1 1419.7L922.1 1423.9L926.4 1419.7L926.4 1423.9L930.6 1423.9L930.6 1419.7L930.6 1423.9L934.8 1423.9L939.1 1419.7L939.1 1423.9L943.3 1419.7L947.5 1423.9L947.5 1419.7L951.8 1423.9L956.0 1423.9L956.0 1419.7L960.2 1419.7L964.4 1423.9L964.4 1419.7L968.7 1419.7L968.7 1423.9L968.7 1419.7L972.9 1423.9L972.9 1419.7L977.1 1423.9L977.1 1419.7L977.1 1423.9L981.4 1423.9L981.4 1419.7L985.6 1423.9L985.6 1419.7L985.6 1423.9L989.8 1419.7L989.8 1423.9L994.1 1423.9L994.1 1415.5L998.3 1423.9L998.3 1419.7L1002.5 1419.7L1002.5 1423.9L1006.7 1423.9L1006.7 1419.7L1011.0 1423.9L1011.0 1419.7L1011.0 1423.9L1015.2 1423.9L1015.2 1419.7L1019.4 1419.7L1019.4 1423.9L1023.7 1423.9L1023.7 1419.7L1023.7 1423.9L1027.9 1419.7L1032.1 1423.9L1032.1 1419.7L1036.4 1422.2L1036.4 1417.4L1040.6 1421.6L1040.6 1417.4L1044.8 1417.4L1044.8 1421.6L1049.0 1421.6L1049.0 1417.4L1053.3 1421.6L1057.5 1421.6L1057.5 1417.4L1057.5 1421.6L1061.7 1421.6L1061.7 1417.4L1061.7 1421.6L1066.0 1417.4L1066.0 1421.6L1066.0 1417.4L1070.2 1421.6L1074.4 1413.2L1074.4 1421.6L1078.7 1417.4L1078.7 1421.6L1078.7 1417.4L1082.9 1421.6L1082.9 1417.4L1087.1 1421.6L1087.1 1417.4L1091.3 1417.4L1091.3 1421.6L1095.6 1417.4L1095.6 1421.6L1095.6 1417.4L1099.8 1421.6L1099.8 1417.4L1104.0 1417.4L1104.0 1421.6L1108.3 1417.4L1108.3 1421.6L1112.5 1417.4L1112.5 1421.6L1112.5 1417.4L1121.0 1417.4L1121.0 1421.6L1121.0 1417.4L1125.2 1417.4L1125.2 1417.7L1125.2 1414.5L1125.2 1417.7L1129.4 1417.7L1133.6 1413.5L1133.6 1417.7L1133.6 1413.5L1137.9 1417.7L1137.9 1413.5L1142.1 1413.5L1142.1 1417.7L1142.1 1413.5L1146.3 1417.7L1146.3 1413.5L1146.3 1417.7L1150.6 1413.5L1150.6 1417.7L1154.8 1417.7L1154.8 1413.5L1154.8 1417.7L1159.0 1417.7L1159.0 1413.5L1159.0 1417.7L1163.3 1413.5L1163.3 1417.7L1163.3 1413.5L1167.5 1413.5L1167.5 1417.7L1167.5 1413.5L1171.7 1413.5L1171.7 1417.7L1175.9 1417.7L1175.9 1413.5L1175.9 1417.7L1180.2 1413.5L1180.2 1417.7L1188.6 1417.7L1188.6 1413.5L1188.6 1417.7L1192.9 1417.7L1192.9 1413.5L1192.9 1417.7L1197.1 1413.5L1197.1 1417.7L1201.3 1417.7L1201.3 1413.5L1205.6 1417.7L1205.6 1407.9L1209.8 1412.1L1209.8 1407.9L1214.0 1407.9L1214.0 1412.1L1214.0 1407.9L1218.2 1412.1L1218.2 1407.9L1222.5 1414.1L1222.5 1414.8L1222.5 1410.6L1226.7 1414.8L1226.7 1410.6L1230.9 1410.6L1230.9 1414.8L1235.2 1410.6L1235.2 1414.8L1235.2 1410.6L1239.4 1410.6L1239.4 1414.8L1243.6 1410.6L1243.6 1414.8L1247.9 1414.8L1247.9 1410.6L1247.9 1414.8L1252.1 1410.6L1252.1 1414.8L1252.1 1410.6L1256.3 1410.6L1260.5 1414.8L1260.5 1410.6L1264.8 1414.8L1264.8 1410.6L1269.0 1414.8L1273.2 1410.6L1273.2 1414.8L1277.5 1414.8L1277.5 1410.6L1281.7 1410.6L1281.7 1414.8L1281.7 1410.6L1285.9 1410.6L1285.9 1414.8L1290.2 1410.6L1294.4 1410.6L1294.4 1408.1L1294.4 1414.8L1294.4 1408.1L1298.6 1411.4L1298.6 1407.1L1302.8 1411.3L1302.8 1407.1L1302.8 1411.3L1307.1 1411.3L1307.1 1407.0L1307.1 1411.2L1311.3 1407.0L1311.3 1411.2L1315.5 1406.9L1315.5 1411.1L1319.8 1411.1L1319.8 1406.8L1324.0 1406.8L1324.0 1411.0L1328.2 1411.0L1328.2 1406.7L1332.5 1406.7L1332.5 1406.6L1332.5 1410.9L1332.5 1406.6L1336.7 1410.8L1336.7 1406.6L1336.7 1410.8L1340.9 1410.7L1345.1 1406.4L1345.1 1410.6L1349.4 1406.4L1349.4 1406.3L1349.4 1410.6L1349.4 1406.3L1353.6 1406.3L1353.6 1410.5L1357.8 1410.5L1357.8 1406.2L1362.1 1406.2L1362.1 1410.4L1366.3 1406.1L1366.3 1410.3L1370.5 1410.3L1370.5 1406.0L1374.8 1406.0L1379.0 1405.9L1379.0 1410.1L1383.2 1410.0L1383.2 1409.8L1387.4 1405.5L1387.4 1405.4L1387.4 1409.5L1391.7 1405.2L1391.7 1405.0L1395.9 1409.2L1395.9 1404.7L1400.1 1404.6L1400.1 1402.1L1404.4 1397.9L1404.4 1402.1L1408.6 1402.1L1408.6 1397.9L1412.8 1402.1L1412.8 1397.9L1412.8 1402.1L1417.1 1406.9L1417.1 1411.9L1421.3 1408.0L1421.3 1412.6L1425.5 1408.7L1425.5 1413.9L1428.0 1412.0L1432.5 1414.6L1436.0 1412.0L1438.1 1405.0L1438.1 1375.0L1442.0 1348.0L1442.0 1326.0L1442.0 1355.0L1446.0 1385.0L1446.0 1412.0L1449.5 1418.0L1450.9 1415.4L1463.6 1415.4L1463.6 1419.6L1467.8 1415.3L1467.8 1419.6L1472.0 1415.3L1472.0 1419.6L1472.0 1419.5L1476.3 1419.5L1476.3 1415.3L1476.3 1419.5L1480.5 1419.5L1480.5 1415.3L1484.7 1419.5L1484.7 1415.3L1489.0 1419.5L1489.0 1415.3L1493.2 1415.3L1493.2 1415.2L1493.2 1419.5L1493.2 1415.2L1497.4 1415.2L1497.4 1419.5L1497.4 1415.2L1501.7 1419.5L1501.7 1415.2L1505.9 1415.2L1510.1 1419.4L1514.3 1419.4L1514.3 1415.2L1518.6 1419.4L1518.6 1415.2L1522.8 1415.2L1522.8 1419.4L1522.8 1415.2L1527.0 1415.1L1527.0 1419.4L1527.0 1415.1L1531.3 1415.1L1531.3 1419.4L1535.5 1415.1L1535.5 1419.3L1539.7 1415.1L1544.0 1419.3L1544.0 1415.1L1548.2 1413.1L1548.2 1412.4L1548.2 1416.6L1548.2 1412.4L1552.4 1416.6L1552.4 1412.4L1552.4 1416.6L1556.6 1412.4L1560.9 1416.6L1565.1 1412.4L1565.1 1416.6L1565.1 1412.4L1569.3 1416.6L1569.3 1412.4L1569.3 1416.6L1573.6 1412.4L1573.6 1416.6L1573.6 1412.4L1577.8 1416.6L1577.8 1412.4L1577.8 1416.6L1582.0 1408.2L1582.0 1416.6L1582.0 1412.4L1586.3 1416.6L1586.3 1412.4L1590.5 1416.6L1590.5 1411.8L1594.7 1411.8L1598.9 1416.0L1598.9 1411.8L1624.3 1411.8L1624.3 1407.6L1624.3 1411.8L1628.6 1411.8L1628.6 1416.0L1628.6 1411.8L1641.2 1411.8L1641.2 1407.6L1645.5 1411.8L1666.6 1411.8L1666.6 1410.1L1670.9 1408.4L1670.9 1410.5L1670.9 1406.3L1670.9 1410.5L1675.1 1410.4L1675.1 1406.1L1679.3 1406.1L1679.3 1406.0L1679.3 1410.2L1683.5 1405.9L1683.5 1410.1L1687.8 1410.0L1687.8 1405.7L1692.0 1405.7L1692.0 1405.6L1696.2 1409.8L1696.2 1405.4L1700.5 1405.4L1700.5 1409.6L1704.7 1405.3L1704.7 1405.2L1704.7 1409.5L1704.7 1405.2L1708.9 1405.2L1708.9 1405.1L1708.9 1409.4L1708.9 1405.1L1713.2 1405.0L1713.2 1409.2L1717.4 1409.1L1717.4 1404.8L1721.6 1409.0L1721.6 1404.7L1721.6 1408.9L1725.8 1408.9L1725.8 1404.5L1730.1 1404.5L1734.3 1408.6L1738.5 1404.3L1738.5 1408.5L1738.5 1408.4L1742.8 1408.4L1742.8 1404.1L1747.0 1408.2L1747.0 1404.0L1747.0 1408.2L1751.2 1408.1L1751.2 1403.6L1755.5 1407.7L1755.5 1407.5L1759.7 1403.1L1759.7 1403.0L1763.9 1407.1L1763.9 1397.1L1768.1 1397.1L1768.1 1401.3L1772.4 1397.1L1772.4 1399.2L1772.4 1403.0L1776.6 1404.0L1776.6 1412.5L1780.8 1413.5L1780.8 1420.5L1785.1 1421.5L1785.1 1429.0L1789.3 1431.8L1797.7 1431.8L1797.7 1422.0L1802.0 1420.0L1802.0 1405.0L1806.2 1400.0L1806.9 1200.0L1809.8 1162.2L1809.8 1260.0L1813.6 1390.0L1814.2 1458.0L1818.5 1462.0L1818.9 1461.8L1827.4 1461.8L1827.4 1466.0L1827.4 1461.8L1831.6 1466.0L1831.6 1461.8L1857.0 1461.8L1857.0 1466.0L1857.0 1461.8L1861.2 1461.8L1861.2 1466.0L1865.4 1461.8L1873.9 1461.8L1878.1 1466.0L1878.1 1461.8L1882.4 1461.8L1886.6 1466.0L1886.6 1461.8L1890.8 1461.8L1895.0 1466.0L1895.0 1461.8L1907.7 1461.8L1907.7 1466.0L1907.7 1461.8L1912.0 1461.8L1912.0 1466.0L1916.2 1461.8L1916.2 1457.6L1916.2 1461.8L1920.4 1461.8L1920.4 1466.0L1920.4 1461.8L1933.1 1461.8L1933.1 1466.0L1937.3 1461.8L1937.3 1466.0L1937.3 1461.8L1941.6 1461.8L1941.6 1466.0L1941.6 1461.8L1958.5 1461.8L1962.7 1457.6L1962.7 1466.0L1967.0 1461.8L1967.0 1466.0L1971.2 1461.8L1971.2 1466.0L1971.2 1461.8L1975.4 1461.8L1979.6 1466.0L1979.6 1461.8L1983.9 1461.8L1983.9 1466.0L1988.1 1461.8L1992.3 1461.8L1992.3 1466.0L1992.3 1461.8L1996.6 1466.0L1996.6 1461.8L2000.8 1461.8L2000.8 1466.0L2005.0 1461.8L2009.3 1466.0L2009.3 1461.8L2013.5 1461.8L2017.7 1466.0L2017.7 1461.8L2021.9 1457.6L2021.9 1466.0L2021.9 1461.8L2034.6 1461.8L2034.6 1457.6L2038.9 1466.0L2043.1 1461.8L2043.1 1466.0L2043.1 1461.8L2047.3 1461.8L2051.6 1466.0L2051.6 1461.8L2055.8 1461.8L2055.8 1466.0L2055.8 1461.8L2064.2 1461.8L2064.2 1466.0L2068.5 1466.0L2068.5 1461.8L2072.7 1466.0L2072.7 1457.6L2076.9 1461.8L2076.9 1466.0L2076.9 1461.8L2085.4 1461.8L2089.6 1466.0L2089.6 1461.8L2093.9 1466.0L2093.9 1461.8L2098.1 1461.8L2098.1 1466.0L2098.1 1461.8L2102.3 1457.6L2102.3 1461.8L2115.0 1461.8L2115.0 1466.0L2115.0 1461.8L2119.2 1466.0L2119.2 1461.8L2127.7 1461.8L2127.7 1466.0L2127.7 1461.8L2131.9 1461.8L2131.9 1466.0L2131.9 1461.8L2144.6 1461.8L2144.6 1466.0L2148.8 1461.8L2157.3 1461.8L2157.3 1466.0L2165.8 1457.6L2165.8 1466.0L2165.8 1461.8L2186.9 1461.8L2191.1 1466.0L2191.1 1461.8L2195.4 1461.8L2195.4 1466.0L2199.6 1466.0L2199.6 1461.8L2203.8 1461.8L2203.8 1466.0L2208.1 1461.8L2216.5 1461.8L2220.8 1466.0L2220.8 1461.8L2220.8 1463.4L2225.0 1469.1L2224.0 1466.0L2228.0 1469.0L2233.0 1469.0" stroke="#8000ff" stroke-width="9.4" stroke-linejoin="round" stroke-linecap="butt" fill="none"/></g>
<g id="annotations" shape-rendering="crispEdges"><line x1="1641.1" y1="313.0" x2="1641.1" y2="330.0" stroke="#1a6cdd" stroke-width="9.8" stroke-linecap="round"/><line x1="1641.1" y1="376.59999999999997" x2="1641.1" y2="393.1" stroke="#1a6cdd" stroke-width="9.8" stroke-linecap="round"/><line x1="1641.1" y1="440.9" x2="1641.1" y2="455.6" stroke="#1a6cdd" stroke-width="9.8" stroke-linecap="round"/><line x1="1641.1" y1="804.9" x2="1641.1" y2="819.1" stroke="#ff0000" stroke-width="9.8" stroke-linecap="round"/><line x1="1641.1" y1="867.4" x2="1641.1" y2="882.1" stroke="#ff0000" stroke-width="9.8" stroke-linecap="round"/><line x1="1641.1" y1="929.9" x2="1641.1" y2="946.1" stroke="#ff0000" stroke-width="9.8" stroke-linecap="round"/><line x1="1641.1" y1="1330.6000000000001" x2="1641.1" y2="1348.1" stroke="#404040" stroke-width="9.8" stroke-linecap="round"/><line x1="1641.1" y1="1390.5" x2="1641.1" y2="1406.6" stroke="#404040" stroke-width="9.8" stroke-linecap="round"/><line x1="1641.1" y1="1453.2" x2="1641.1" y2="1469.3" stroke="#404040" stroke-width="9.8" stroke-linecap="round"/><line x1="1442.0" y1="335.5" x2="1479.4" y2="288.2" stroke="#1a6cdd" stroke-width="11.0" stroke-linecap="round"/><line x1="1641.7" y1="316.0" x2="1678.9" y2="275.5" stroke="#1a6cdd" stroke-width="11.0" stroke-linecap="round"/><line x1="1807.4" y1="224.0" x2="1839.6" y2="182.9" stroke="#1a6cdd" stroke-width="11.0" stroke-linecap="round"/><line x1="1442.3" y1="811.5" x2="1475.3" y2="770.6" stroke="#ff0000" stroke-width="11.0" stroke-linecap="round"/><line x1="1641.7" y1="802.0" x2="1674.4" y2="757.8" stroke="#ff0000" stroke-width="11.0" stroke-linecap="round"/><line x1="1806.4" y1="683.5" x2="1839.4" y2="639.6" stroke="#ff0000" stroke-width="11.0" stroke-linecap="round"/><line x1="1442.0" y1="1322.0" x2="1475.3" y2="1281.5" stroke="#8000ff" stroke-width="11.0" stroke-linecap="round"/><line x1="1637.5" y1="1328.0" x2="1669.8" y2="1285.4" stroke="#8000ff" stroke-width="11.0" stroke-linecap="round"/><line x1="1810.4" y1="1162.0" x2="1843.7" y2="1116.6" stroke="#8000ff" stroke-width="11.0" stroke-linecap="round"/></g>
<g id="labels"><text transform="translate(78.69,59.41) scale(1.0600,1)" font-size="59.26" letter-spacing="-1.044" fill="#000">250,000</text><text transform="translate(78.69,143.71) scale(1.0600,1)" font-size="59.26" letter-spacing="-1.044" fill="#000">200,000</text><text transform="translate(79.97,224.31) scale(1.0600,1)" font-size="59.26" letter-spacing="-1.246" fill="#000">150,000</text><text transform="translate(79.97,308.01) scale(1.0600,1)" font-size="59.26" letter-spacing="-1.246" fill="#000">100,000</text><text transform="translate(108.89,393.11) scale(1.0600,1)" font-size="59.26" letter-spacing="-1.024" fill="#000">50,000</text><text transform="translate(244.91,473.71) scale(1.0557,1)" font-size="59.26" letter-spacing="0.000" fill="#000">0</text><text transform="translate(78.69,570.31) scale(1.0600,1)" font-size="59.26" letter-spacing="-1.044" fill="#000">250,000</text><text transform="translate(78.69,654.31) scale(1.0600,1)" font-size="59.26" letter-spacing="-1.044" fill="#000">200,000</text><text transform="translate(79.97,735.11) scale(1.0600,1)" font-size="59.26" letter-spacing="-1.246" fill="#000">150,000</text><text transform="translate(79.97,818.81) scale(1.0600,1)" font-size="59.26" letter-spacing="-1.246" fill="#000">100,000</text><text transform="translate(108.89,903.71) scale(1.0600,1)" font-size="59.26" letter-spacing="-1.024" fill="#000">50,000</text><text transform="translate(244.91,984.31) scale(1.0557,1)" font-size="59.26" letter-spacing="0.000" fill="#000">0</text><text transform="translate(78.69,1081.41) scale(1.0600,1)" font-size="59.26" letter-spacing="-1.044" fill="#000">250,000</text><text transform="translate(78.69,1165.11) scale(1.0600,1)" font-size="59.26" letter-spacing="-1.044" fill="#000">200,000</text><text transform="translate(79.97,1245.11) scale(1.0600,1)" font-size="59.26" letter-spacing="-1.246" fill="#000">150,000</text><text transform="translate(79.97,1329.41) scale(1.0600,1)" font-size="59.26" letter-spacing="-1.246" fill="#000">100,000</text><text transform="translate(108.89,1414.31) scale(1.0600,1)" font-size="59.26" letter-spacing="-1.024" fill="#000">50,000</text><text transform="translate(244.91,1494.31) scale(1.0557,1)" font-size="59.26" letter-spacing="0.000" fill="#000">0</text><text transform="translate(386.83,1597.59) scale(1.0000,1)" font-size="70.81" letter-spacing="-2.795" fill="#000">1200</text><text transform="translate(683.03,1597.59) scale(1.0000,1)" font-size="70.81" letter-spacing="-2.862" fill="#000">1000</text><text transform="translate(997.78,1597.59) scale(1.0000,1)" font-size="70.81" letter-spacing="-4.510" fill="#000">800</text><text transform="translate(1293.48,1597.59) scale(1.0000,1)" font-size="70.81" letter-spacing="-2.260" fill="#000">600</text><text transform="translate(1590.19,1597.59) scale(1.0000,1)" font-size="70.81" letter-spacing="-2.018" fill="#000">400</text><text transform="translate(1884.77,1597.59) scale(1.0000,1)" font-size="70.81" letter-spacing="-1.306" fill="#000">200</text><text transform="translate(2216.58,1597.59) scale(0.9754,1)" font-size="70.81" letter-spacing="0.000" fill="#000">0</text><text transform="translate(1015.00,1689.90) scale(1.0000,1)" font-size="66.41" letter-spacing="-0.230" fill="#000">Binding energy(eV)</text><text transform="translate(62.90,849.65) rotate(-90) scale(1.0000,1)" font-size="68.40" letter-spacing="-0.579" fill="#000">Intensity</text><text transform="translate(489.49,131.70) scale(1.0000,1)" font-size="60.30" letter-spacing="0.832" fill="#1a6cdd">STAC</text><text transform="translate(485.61,638.20) scale(1.0000,1)" font-size="59.70" letter-spacing="-0.100" fill="#ee4040">SDBS</text><text transform="translate(473.21,1170.00) scale(1.0000,1)" font-size="59.24" letter-spacing="0.654" fill="#8000ff">Raw coal</text><text transform="translate(0,275.20) scale(0.95,1)" fill="#1a6cdd"><tspan x="1544.94" font-size="49.20">O </tspan><tspan x="1598.12" font-size="47.20" letter-spacing="-0.84">1s</tspan></text><text transform="translate(0,267.60) scale(0.95,1)" fill="#1a6cdd"><tspan x="1763.71" font-size="47.60">N </tspan><tspan x="1812.75" font-size="47.20" letter-spacing="2.21">1s</tspan></text><text transform="translate(0,174.10) scale(0.95,1)" fill="#1a6cdd"><tspan x="1932.10" font-size="54.00">C </tspan><tspan x="1985.10" font-size="52.00" letter-spacing="1.81">1s</tspan></text><text transform="translate(0,765.10) scale(0.95,1)" fill="#ee4040"><tspan x="1540.63" font-size="49.20">O </tspan><tspan x="1592.96" font-size="47.20" letter-spacing="4.53">1s</tspan></text><text transform="translate(0,752.20) scale(0.95,1)" fill="#ee4040"><tspan x="1745.60" font-size="47.60">N </tspan><tspan x="1794.12" font-size="47.20" letter-spacing="3.16">1s</tspan></text><text transform="translate(0,634.10) scale(0.95,1)" fill="#ee4040"><tspan x="1932.10" font-size="54.00">C </tspan><tspan x="1985.21" font-size="52.00" letter-spacing="1.71">1s</tspan></text><text transform="translate(0,1276.40) scale(0.95,1)" fill="#8000ff"><tspan x="1545.15" font-size="49.20">O </tspan><tspan x="1592.96" font-size="47.20" letter-spacing="4.53">1s</tspan></text><text transform="translate(0,1272.30) scale(0.95,1)" fill="#8000ff"><tspan x="1737.18" font-size="47.60">N </tspan><tspan x="1789.91" font-size="47.20" letter-spacing="-1.05">1s</tspan></text><text transform="translate(0,1120.10) scale(0.95,1)" fill="#8000ff"><tspan x="1940.73" font-size="54.00">C </tspan><tspan x="1993.63" font-size="52.00" letter-spacing="1.71">1s</tspan></text></g>
</svg>
</body></html>
